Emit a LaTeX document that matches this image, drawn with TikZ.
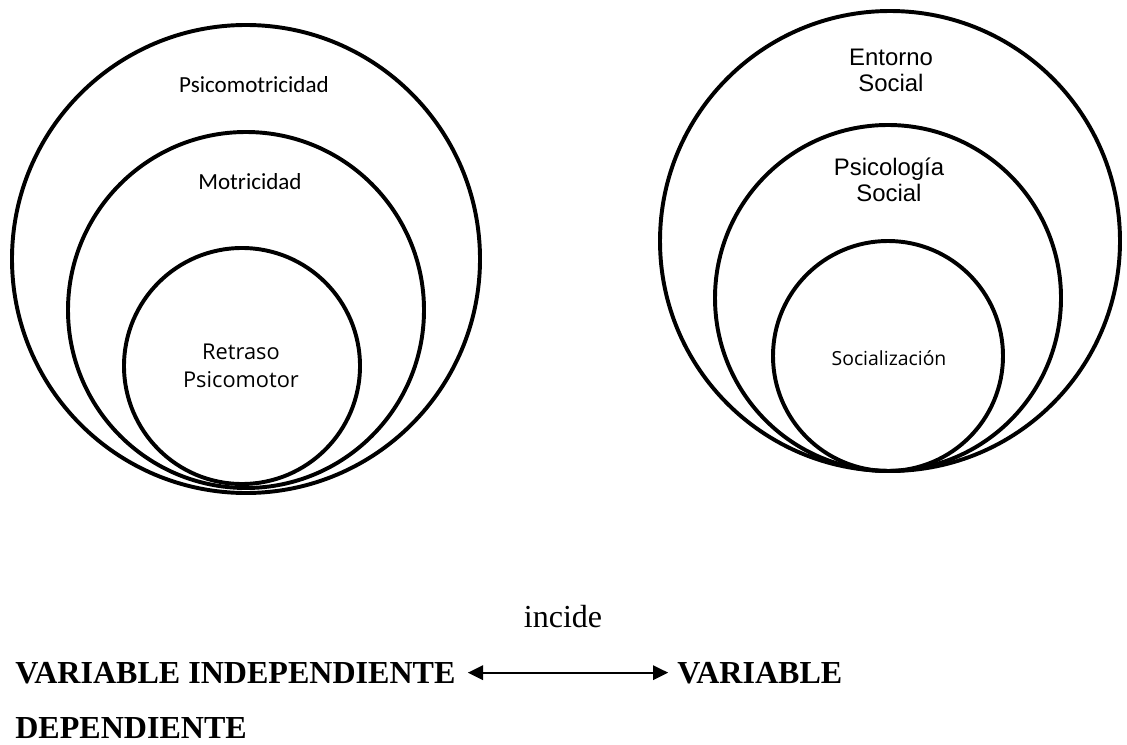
\documentclass[tikz,border=0pt]{standalone}
\usepackage{fontspec}
\setmainfont{Liberation Serif}
\newfontfamily\calibrifont{Carlito}
\newfontfamily\segoefont{Open Sans}
\newfontfamily\arialfont{Liberation Sans}
\usetikzlibrary{arrows.meta}

\begin{document}
\begin{tikzpicture}[
	ring/.style={draw, circle, line width=2.8pt, inner sep=0pt},
	lbl/.style={align=center, inner sep=0pt},
	var/.style={inner sep=0pt, anchor=base west, font=\fontsize{22.8}{27}\selectfont\bfseries}
]
	\useasboundingbox (0,0) rectangle (28.175,-18.625);
	% left circles
	\node (psicomot) [ring, minimum size=11.7cm] at (6.15,-6.475) {};
	\node (motric) [ring, minimum size=8.9cm] at (6.15,-7.75) {};
	\node (retraso) [ring, minimum size=5.9cm] at (6.05,-9.15) {};
	\node (tpsicomot) [lbl, font=\calibrifont\fontsize{16.4}{20}\selectfont] at (6.35,-2.125) {Psicomotricidad};
	\node (tmotric) [lbl, font=\calibrifont\fontsize{16.4}{20}\selectfont] at (6.25,-4.55) {Motricidad};
	\node (tretraso) [lbl, font=\segoefont\fontsize{15.5}{20}\selectfont] at (6.025,-9.15) {Retraso\\Psicomotor};
	% right circles
	\node (entorno) [ring, minimum size=11.5cm] at (22.25,-6.025) {};
	\node (psicsoc) [ring, minimum size=8.65cm] at (22.2,-7.45) {};
	\node (social) [ring, minimum size=5.75cm] at (22.2,-8.9) {};
	\node (tentorno) [lbl, font=\arialfont\fontsize{17}{18.5}\selectfont] at (22.275,-1.75) {Entorno\\Social};
	\node (tpsicsoc) [lbl, font=\arialfont\fontsize{17}{18.5}\selectfont] at (22.225,-4.5) {Psicología\\Social};
	\node (tsocial) [lbl, font=\segoefont\fontsize{13.8}{17}\selectfont] at (22.225,-8.95) {Socialización};
	% variables
	\node (incide) [inner sep=0pt, anchor=base, font=\fontsize{22.8}{27}\selectfont] at (14.075,-15.675) {incide};
	\node (vind) [var] at (0.375,-17.075) {VARIABLE INDEPENDIENTE};
	\node (vdep) [var] at (16.925,-17.075) {VARIABLE};
	\node (dep) [var] at (0.375,-18.45) {DEPENDIENTE};
	\draw[{Triangle[length=3.8mm,width=3.6mm]}-{Triangle[length=3.8mm,width=3.6mm]}, line width=1.5pt, shorten <=0.3cm, shorten >=0.22cm] (vind) -- (vdep);
\end{tikzpicture}
\end{document}
